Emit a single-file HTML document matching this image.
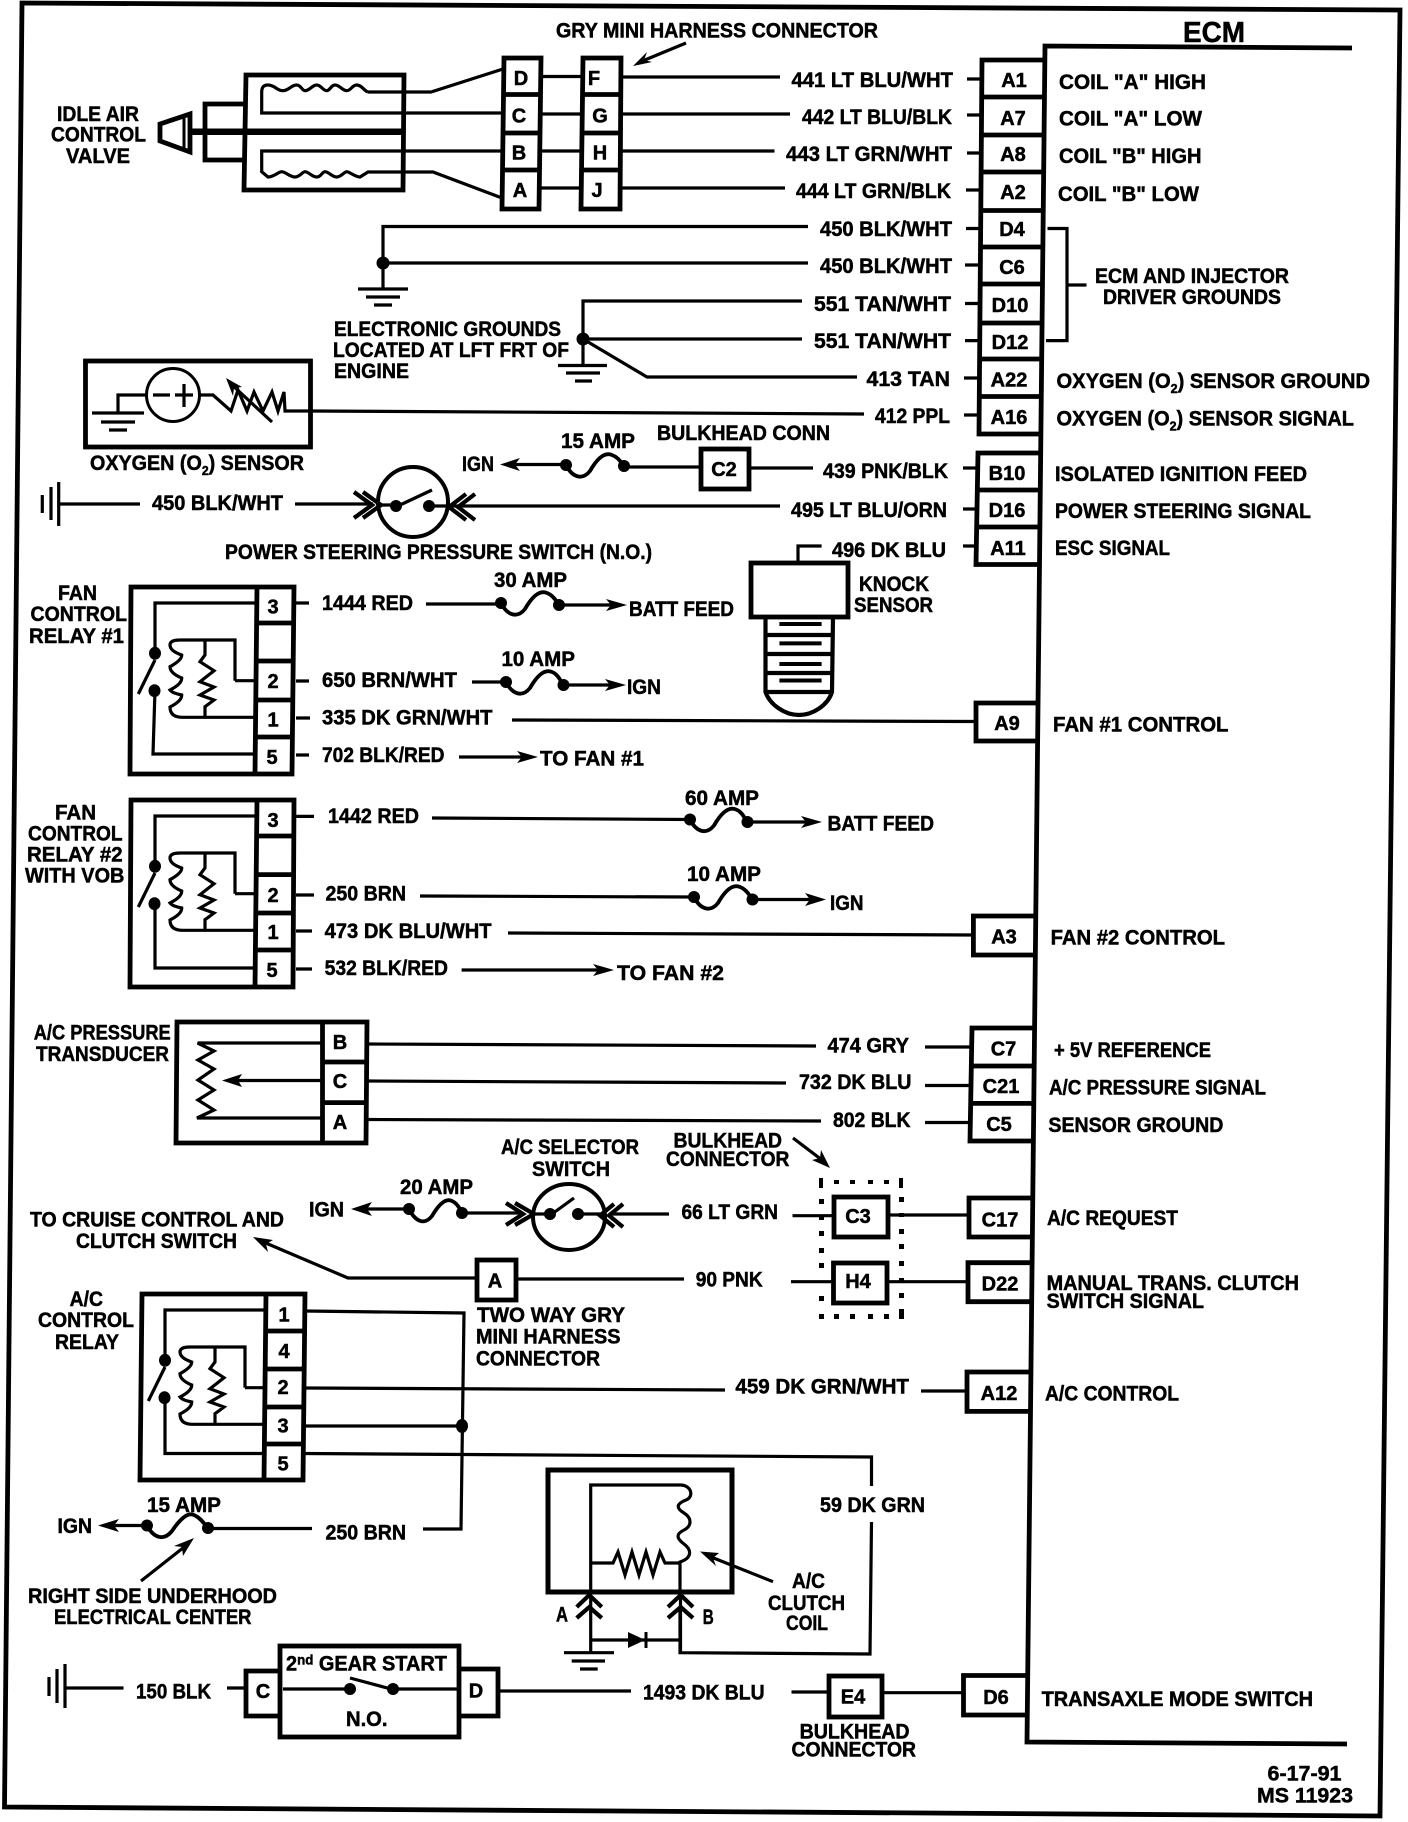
<!DOCTYPE html>
<html><head><meta charset="utf-8"><title>ECM wiring diagram</title>
<style>
html,body{margin:0;padding:0;background:#fff}
svg{display:block}
text{font-family:"Liberation Sans",sans-serif;font-weight:bold;font-size:21px;fill:#000;stroke:#000;stroke-width:.5}
.p{font-size:20px;text-anchor:middle}
.w{fill:none;stroke:#000;stroke-width:3.2}
.b{fill:none;stroke:#000;stroke-width:4.8}
.f{fill:none;stroke:#000;stroke-width:3.8}
.c{fill:none;stroke:#000;stroke-width:4.2}
.d{fill:#000;stroke:none}
</style></head><body>
<svg xmlns="http://www.w3.org/2000/svg" width="1408" height="1822" viewBox="0 0 1408 1822">
<rect width="1408" height="1822" fill="#fff"/>

<!-- frame -->
<path class="b" d="M22 3 L1400 10 L1380 1816 L4.5 1807 Z"/>
<!-- ECM -->
<path class="b" d="M1352 48 L1045 46 L1027 1742 L1347 1744"/>
<text x="1183" y="42" style="font-size:29px" textLength="62" lengthAdjust="spacingAndGlyphs">ECM</text>

<!-- pin blocks -->
<path class="b" d="M1045 60 L982 60 L979 434 L1041 434 M981.5 97H1044 M981.5 135H1044 M981 172H1044 M981 210.5H1043 M981 247H1043 M980.5 284H1043 M980.5 323H1042 M980 359H1042 M980 396.5H1042"/>
<path class="b" d="M1041 453 L978 453 L976 564.5 L1040 564.5 M977 490H1040 M977 527H1040"/>
<path class="b" d="M1040 703 H976 V741 H1038"/>
<path class="b" d="M1037 916 H973.4 V955 H1036"/>
<path class="b" d="M1035 1028 H972 L970 1141 H1034 M971 1066H1035 M971 1103.4H1034"/>
<path class="b" d="M1033 1198 H969 V1237 H1033"/>
<path class="b" d="M1032 1262.7 H968 V1301.7 H1032"/>
<path class="b" d="M1031 1372 H967 V1411.4 H1030"/>
<path class="b" d="M1028 1675.5 H963.5 V1715 H1027"/>

<text class="p" x="1014" y="87">A1</text><text class="p" x="1013" y="125">A7</text><text class="p" x="1013" y="161">A8</text><text class="p" x="1013" y="199">A2</text>
<text class="p" x="1012" y="236">D4</text><text class="p" x="1012" y="274">C6</text><text class="p" x="1010" y="312">D10</text><text class="p" x="1010" y="349">D12</text>
<text class="p" x="1009" y="386.5">A22</text><text class="p" x="1009" y="424">A16</text><text class="p" x="1007" y="480">B10</text><text class="p" x="1007" y="517">D16</text><text class="p" x="1008" y="555">A11</text>
<text class="p" x="1007" y="730">A9</text><text class="p" x="1004" y="943.5">A3</text><text class="p" x="1003.5" y="1055.6">C7</text><text class="p" x="1001" y="1093">C21</text><text class="p" x="999" y="1131">C5</text>
<text class="p" x="1000" y="1226.7">C17</text><text class="p" x="1000" y="1290.7">D22</text><text class="p" x="999" y="1400">A12</text><text class="p" x="996" y="1704">D6</text>

<!-- stubs into pins -->
<path class="w" d="M967 79H980 M967 115H980 M967 153H980 M966 190H980 M966 228.5H980 M965 265H980 M965 303.5H979 M965 340.6H979 M964 378H979 M964 415H979 M963 468H977 M963 509H977 M963 546H977"/>

<!-- right labels -->
<text x="1059" y="89" textLength="147" lengthAdjust="spacingAndGlyphs">COIL "A" HIGH</text>
<text x="1059" y="125.5" textLength="143" lengthAdjust="spacingAndGlyphs">COIL "A" LOW</text>
<text x="1059" y="163" textLength="142.5" lengthAdjust="spacingAndGlyphs">COIL "B" HIGH</text>
<text x="1058" y="201" textLength="141" lengthAdjust="spacingAndGlyphs">COIL "B" LOW</text>
<text x="1095" y="283" textLength="194" lengthAdjust="spacingAndGlyphs">ECM AND INJECTOR</text>
<text x="1103" y="304" textLength="178" lengthAdjust="spacingAndGlyphs">DRIVER GROUNDS</text>
<text x="1056.5" y="388" textLength="313.5" lengthAdjust="spacingAndGlyphs">OXYGEN (O<tspan dy="5" style="font-size:13px">2</tspan><tspan dy="-5">) SENSOR GROUND</tspan></text>
<text x="1056.5" y="425.5" textLength="297.5" lengthAdjust="spacingAndGlyphs">OXYGEN (O<tspan dy="5" style="font-size:13px">2</tspan><tspan dy="-5">) SENSOR SIGNAL</tspan></text>
<text x="1055" y="481" textLength="252" lengthAdjust="spacingAndGlyphs">ISOLATED IGNITION FEED</text>
<text x="1055" y="518" textLength="256" lengthAdjust="spacingAndGlyphs">POWER STEERING SIGNAL</text>
<text x="1055" y="555" textLength="115" lengthAdjust="spacingAndGlyphs">ESC SIGNAL</text>
<text x="1053" y="731.5" textLength="175.5" lengthAdjust="spacingAndGlyphs">FAN #1 CONTROL</text>
<text x="1050.6" y="944.6" textLength="174.4" lengthAdjust="spacingAndGlyphs">FAN #2 CONTROL</text>
<text x="1054" y="1057" textLength="157" lengthAdjust="spacingAndGlyphs">+ 5V REFERENCE</text>
<text x="1049" y="1094.6" textLength="217" lengthAdjust="spacingAndGlyphs">A/C PRESSURE SIGNAL</text>
<text x="1048.4" y="1132" textLength="175" lengthAdjust="spacingAndGlyphs">SENSOR GROUND</text>
<text x="1047" y="1225" textLength="131" lengthAdjust="spacingAndGlyphs">A/C REQUEST</text>
<text x="1046.6" y="1290" textLength="252.4" lengthAdjust="spacingAndGlyphs">MANUAL TRANS. CLUTCH</text>
<text x="1046.6" y="1308" textLength="157.4" lengthAdjust="spacingAndGlyphs">SWITCH SIGNAL</text>
<text x="1045" y="1400.7" textLength="134" lengthAdjust="spacingAndGlyphs">A/C CONTROL</text>
<text x="1041.6" y="1706" textLength="271.4" lengthAdjust="spacingAndGlyphs">TRANSAXLE MODE SWITCH</text>
<text x="1267.5" y="1780.7" textLength="74" lengthAdjust="spacingAndGlyphs">6-17-91</text>
<text x="1257" y="1802.6" textLength="96" lengthAdjust="spacingAndGlyphs">MS 11923</text>

<!-- bracket -->
<path class="w" d="M1047.5 228.5H1067V340.6H1046 M1067 285H1086.5"/>

<!-- wire labels -->
<text x="791.5" y="87" textLength="161.5" lengthAdjust="spacingAndGlyphs">441 LT BLU/WHT</text>
<text x="802" y="124" textLength="150" lengthAdjust="spacingAndGlyphs">442 LT BLU/BLK</text>
<text x="786" y="161" textLength="166" lengthAdjust="spacingAndGlyphs">443 LT GRN/WHT</text>
<text x="796" y="198" textLength="155" lengthAdjust="spacingAndGlyphs">444 LT GRN/BLK</text>
<text x="820" y="236" textLength="132" lengthAdjust="spacingAndGlyphs">450 BLK/WHT</text>
<text x="820" y="273" textLength="132" lengthAdjust="spacingAndGlyphs">450 BLK/WHT</text>
<text x="814" y="311" textLength="137" lengthAdjust="spacingAndGlyphs">551 TAN/WHT</text>
<text x="814" y="348" textLength="137" lengthAdjust="spacingAndGlyphs">551 TAN/WHT</text>
<text x="866.5" y="386" textLength="83.5" lengthAdjust="spacingAndGlyphs">413 TAN</text>
<text x="875" y="423" textLength="75" lengthAdjust="spacingAndGlyphs">412 PPL</text>
<text x="823" y="478" textLength="125" lengthAdjust="spacingAndGlyphs">439 PNK/BLK</text>
<text x="791" y="517" textLength="156" lengthAdjust="spacingAndGlyphs">495 LT BLU/ORN</text>
<text x="832" y="557" textLength="114" lengthAdjust="spacingAndGlyphs">496 DK BLU</text>
<text x="859" y="591" textLength="70" lengthAdjust="spacingAndGlyphs">KNOCK</text>
<text x="854" y="612" textLength="79" lengthAdjust="spacingAndGlyphs">SENSOR</text>

<!-- idle air control valve -->
<text x="556" y="37.5" textLength="322" lengthAdjust="spacingAndGlyphs">GRY MINI HARNESS CONNECTOR</text>
<path class="w" d="M686 43 L640 62"/><path class="d" d="M633 66 L647 52 L644 60 L652 62 Z"/>
<text x="57" y="121" textLength="82" lengthAdjust="spacingAndGlyphs">IDLE AIR</text>
<text x="51" y="141.6" textLength="95" lengthAdjust="spacingAndGlyphs">CONTROL</text>
<text x="66" y="163" textLength="64" lengthAdjust="spacingAndGlyphs">VALVE</text>
<path class="b" d="M246 75 H404 L403 190 H244 Z"/>
<path class="b" d="M245 104 H205 V160 H244"/>
<path d="M190 131.7 H403" stroke="#000" stroke-width="6.5" fill="none"/>
<path class="b" d="M160 124 L190 114 V152 L160 141 Z"/>
<path d="M184 115V151" stroke="#000" stroke-width="3" fill="none"/>
<path class="w" d="M368 92 H431 L503 69 M503 113 H261.7 V92 C261.7 87 264 85 268 85 C275 85 277 91 283 90.7 C289 90.5 291 85 296.7 85 C301 85 302 90.7 305 90.7 C310 90.7 312 85 316.7 85 C321 85 323 90.7 326.7 90.7 C330 90.7 331 85 335 85 C340 85 342 90.7 346.7 90.7 C351 90.7 352 85 356.7 85 C362 85 364 91 368 92"/>
<path class="w" d="M503 151 H261.7 V171.7 L268 177 C274 177 278 172 281.7 171.7 C286 172 290 177 295 177 C300 177 302 172 305 171.7 C309 172 312 177 316.7 177 C321 177 322 172 325 171.7 C329 172 332 177 336.7 177 C341 177 344 172 346.7 171.7 C350 172 355 177 360 177 L368 172 H433 L502 198"/>
<path class="b" d="M504 58 H541 L539 209 H502 Z M503 94.5H540 M503 133H540 M502.5 170H539.5"/>
<path class="b" d="M583 58 H621 L620 209 H581 Z M582 94.5H620 M582 133H620 M581.5 170H620"/>
<path class="w" d="M541 76.5H582 M540 114H582 M540 151H581 M539 188H581"/>
<text class="p" x="521" y="85">D</text><text class="p" x="519" y="122.5">C</text><text class="p" x="519" y="159.5">B</text><text class="p" x="520" y="197">A</text>
<text class="p" x="594" y="85">F</text><text class="p" x="600" y="122.5">G</text><text class="p" x="600" y="159.5">H</text><text class="p" x="597" y="197">J</text>
<path class="w" d="M622 77H780 M621 114H790 M620 151H774.5 M620 188H785"/>

<!-- grounds -->
<path class="w" d="M808 226.5 H383 V289 M383 263 H808"/>
<circle class="d" cx="383" cy="263" r="6.5"/>
<path class="w" d="M358 289H408 M366 297H400 M374 305H392"/>
<text x="334" y="336" textLength="227" lengthAdjust="spacingAndGlyphs">ELECTRONIC GROUNDS</text>
<text x="333" y="357" textLength="236" lengthAdjust="spacingAndGlyphs">LOCATED AT LFT FRT OF</text>
<text x="334" y="378" textLength="75" lengthAdjust="spacingAndGlyphs">ENGINE</text>
<path class="w" d="M802 301 H583 V365 M583 339 H802 M583 339 L647 377 H857"/>
<circle class="d" cx="583" cy="339" r="6.5"/>
<path class="w" d="M558 365.5H607 M566 373H600 M575 381H592"/>

<!-- O2 sensor -->
<rect class="b" x="85.5" y="361" width="225" height="86"/>
<circle cx="173" cy="395" r="26.5" fill="none" stroke="#000" stroke-width="3"/>
<path class="w" d="M153 395H170 M175 395H193 M184 384V407"/>
<path class="w" d="M146 395 H118 V413 M92 413H144 M101 422H135 M109 430H127"/>
<path class="w" d="M200 395 H213 L231 411 L238 390 L247 411 L254 392 L263 411 L272 392 L278 411 L284 392 L285 411 H310 M310 411 L864 414"/>
<path class="w" d="M272 422 L231 384"/><path class="d" d="M226 378 L242 387 L234 388 L233 396 Z"/>
<text x="90" y="470" textLength="214" lengthAdjust="spacingAndGlyphs">OXYGEN (O<tspan dy="5" style="font-size:13px">2</tspan><tspan dy="-5">) SENSOR</tspan></text>

<!-- 15A / C2 / PS switch -->
<text x="561" y="448" textLength="74" lengthAdjust="spacingAndGlyphs">15 AMP</text>
<text x="657" y="440" textLength="173" lengthAdjust="spacingAndGlyphs">BULKHEAD CONN</text>
<text x="462" y="471" textLength="32" lengthAdjust="spacingAndGlyphs">IGN</text>
<path class="w" d="M510 464.5H566 M624 467H700"/>
<path class="d" d="M500 464.5 L520 458 L515 464.5 L520 471 Z"/>
<path class="f" d="M566 465 C572 477 582 481 590 471 C598 457 605 452 612 455 C618 457 622 463 624 466"/>
<circle class="d" cx="566" cy="465" r="6"/><circle class="d" cx="624" cy="466" r="6"/>
<rect class="b" x="701" y="449" width="48" height="40"/>
<text class="p" x="724" y="476">C2</text>
<path class="w" d="M750 468H813"/>
<path class="w" d="M42.3 495V513 M51 487V520 M58.7 482V526 M58.7 504H140 M295 504H373"/>
<text x="152" y="510" textLength="131" lengthAdjust="spacingAndGlyphs">450 BLK/WHT</text>
<ellipse cx="413" cy="502" rx="35" ry="35" fill="none" stroke="#000" stroke-width="4"/>
<path class="c" d="M354 492 L372 505 L354 518 M363 492 L381 505 L363 518 M466 494 L449 507 L466 520 M475 494 L458 507 L475 520"/>
<path class="w" d="M381 505H396 M429 506H780"/>
<circle class="d" cx="396" cy="506" r="6"/><circle class="d" cx="429" cy="506" r="6"/>
<path class="w" d="M400 505 L432 490"/>
<text x="225" y="559" textLength="427" lengthAdjust="spacingAndGlyphs">POWER STEERING PRESSURE SWITCH (N.O.)</text>

<!-- knock sensor -->
<path class="w" d="M821.6 546 H798 V562"/>
<rect class="b" x="751" y="563" width="97" height="54"/>
<path class="c" d="M765.5 617 V692 C770 705 785 715 799 715 C813 715 828 705 832 692 L833 617 M765.5 635H833 M765.5 654H833 M765.5 673H833 M765.5 692H833"/>
<path d="M779.4 624H821.6 M779.4 643.4H821.6 M779.4 664H821.6 M779.4 680.5H821.6" stroke="#000" stroke-width="4" fill="none"/>

<!-- relay 1 -->
<text x="58" y="600" textLength="39" lengthAdjust="spacingAndGlyphs">FAN</text>
<text x="30.5" y="621" textLength="96.5" lengthAdjust="spacingAndGlyphs">CONTROL</text>
<text x="29" y="643" textLength="95" lengthAdjust="spacingAndGlyphs">RELAY #1</text>
<path class="b" d="M131 587 H294 L292 774 H130 Z M257 587 L255 774 M256 623H293 M256 661H293 M256 700H293 M256 737H292"/>
<text class="p" x="273" y="613.6">3</text><text class="p" x="273" y="688">2</text><text class="p" x="273" y="726.5">1</text><text class="p" x="272" y="764">5</text>
<g id="rel">
<path class="w" d="M256 603 H155 V654 M155 660 L138.3 694 M235 680.7 H256 M235 680.7 V640 H180 Q170 640 170 645 Q170 651 181.7 655 Q182 660 170 666.7 Q170 673 181.7 678 Q182 684 170 690 Q172 693 181.7 695 Q182 701 170 707 Q170 717 181.7 717.3 H256 M205 640 V655 L200 661.7 L214 670.7 L200 681.7 L214 687 L200 695 L214 700 L205 706.7 V717"/>
<ellipse class="d" cx="155" cy="653.3" rx="6" ry="6.5"/><ellipse class="d" cx="154.5" cy="690.7" rx="6" ry="6.5"/>
</g>
<path class="w" d="M155 690 L153 754 H256"/>
<path class="w" d="M296 603H309 M296 681H309 M296 718H310 M296 755H309"/>
<text x="322" y="610" textLength="91" lengthAdjust="spacingAndGlyphs">1444 RED</text>
<text x="322" y="687" textLength="135" lengthAdjust="spacingAndGlyphs">650 BRN/WHT</text>
<text x="322" y="724.5" textLength="170.5" lengthAdjust="spacingAndGlyphs">335 DK GRN/WHT</text>
<text x="322" y="762" textLength="122.5" lengthAdjust="spacingAndGlyphs">702 BLK/RED</text>
<text x="494" y="587" textLength="73" lengthAdjust="spacingAndGlyphs">30 AMP</text>
<text x="501.5" y="666" textLength="73.5" lengthAdjust="spacingAndGlyphs">10 AMP</text>
<text x="629" y="616" textLength="105" lengthAdjust="spacingAndGlyphs">BATT FEED</text>
<text x="627" y="694" textLength="34" lengthAdjust="spacingAndGlyphs">IGN</text>
<text x="540" y="765.5" textLength="104" lengthAdjust="spacingAndGlyphs">TO FAN #1</text>
<path class="w" d="M426 604H501 M559 605H615 M472 682H506 M563.5 685H615 M512 720 L976 721.5 M459 757H528"/>
<path class="f" d="M501 603 C507 615 517 619 525 609 C533 595 540 590 547 593 C553 595 557 602 559 605"/>
<circle class="d" cx="501" cy="603" r="6"/><circle class="d" cx="559" cy="605" r="6"/>
<path class="f" d="M506 682 C512 694 522 698 530 688 C538 674 545 669 552 672 C558 674 561 682 563.5 685"/>
<circle class="d" cx="506" cy="682" r="6"/><circle class="d" cx="563.5" cy="685" r="6"/>
<path class="d" d="M627 605 L606 599 L611 605 L606 611 Z M626 685 L605 679 L610 685 L605 691 Z M538 757 L517 751 L522 757 L517 763 Z"/>

<!-- relay 2 -->
<text x="55" y="819.5" textLength="41" lengthAdjust="spacingAndGlyphs">FAN</text>
<text x="28" y="840.5" textLength="94.6" lengthAdjust="spacingAndGlyphs">CONTROL</text>
<text x="27" y="861.6" textLength="95.6" lengthAdjust="spacingAndGlyphs">RELAY #2</text>
<text x="25" y="882.6" textLength="99.4" lengthAdjust="spacingAndGlyphs">WITH VOB</text>
<path class="b" d="M131 800 H294 L293 987 H130 Z M257 800 L255 987 M256 836H293 M256 874.6H293 M256 913H293 M256 950H293"/>
<text class="p" x="273" y="827">3</text><text class="p" x="273" y="902">2</text><text class="p" x="273" y="939">1</text><text class="p" x="272" y="977">5</text>
<use href="#rel" transform="translate(0,213)"/>
<path class="w" d="M155 904 V968 H256"/>
<path class="w" d="M296 816.4H314 M296 895H314 M296 931H312 M296 969H312"/>
<text x="328" y="823" textLength="91" lengthAdjust="spacingAndGlyphs">1442 RED</text>
<text x="325.5" y="900.6" textLength="80.5" lengthAdjust="spacingAndGlyphs">250 BRN</text>
<text x="324.6" y="938" textLength="167" lengthAdjust="spacingAndGlyphs">473 DK BLU/WHT</text>
<text x="324.6" y="975" textLength="123.4" lengthAdjust="spacingAndGlyphs">532 BLK/RED</text>
<text x="685" y="805" textLength="74" lengthAdjust="spacingAndGlyphs">60 AMP</text>
<text x="687" y="881" textLength="74" lengthAdjust="spacingAndGlyphs">10 AMP</text>
<text x="827.5" y="830.6" textLength="106.5" lengthAdjust="spacingAndGlyphs">BATT FEED</text>
<text x="830" y="910" textLength="33.4" lengthAdjust="spacingAndGlyphs">IGN</text>
<text x="617" y="980" textLength="107" lengthAdjust="spacingAndGlyphs">TO FAN #2</text>
<path class="w" d="M432 818 L690 819.5 M747.5 822H812 M420 896 L694 897 M752.5 899.5H815 M508 933 L973 935 M461.6 970H604"/>
<path class="f" d="M690 819.5 C696 831.5 706 835.5 714 825.5 C722 811.5 729 806.5 736 809.5 C742 811.5 745 819 747.5 822"/>
<circle class="d" cx="690" cy="819.5" r="6"/><circle class="d" cx="747.5" cy="822" r="6"/>
<path class="f" d="M694 897 C700 909 710 913 718 903 C726 889 733 884 740 887 C746 889 750 896 752.5 899.5"/>
<circle class="d" cx="694" cy="897" r="6"/><circle class="d" cx="752.5" cy="899.5" r="6"/>
<path class="d" d="M822 822 L801 816 L806 822 L801 828 Z M826 899.5 L805 893 L810 899.5 L805 906 Z M614 970 L593 964 L598 970 L593 976 Z"/>

<!-- transducer -->
<text x="33.7" y="1039.5" textLength="137" lengthAdjust="spacingAndGlyphs">A/C PRESSURE</text>
<text x="36" y="1061" textLength="133" lengthAdjust="spacingAndGlyphs">TRANSDUCER</text>
<path class="b" d="M177 1022 H367 L366 1143 H176 Z M322.5 1022 V1143 M323 1062H366 M323 1102.6H366"/>
<text class="p" x="340" y="1049">B</text><text class="p" x="340" y="1088">C</text><text class="p" x="340" y="1129">A</text>
<path class="w" d="M322 1043 H197.6 L214 1051 L198 1060 L214 1069 L198 1080 L214 1090 L198 1100 L214 1110 L197 1118 H322 M322 1080.5 H232"/>
<path class="d" d="M222 1080.5 L242 1074 L238 1080.5 L242 1087 Z"/>
<path class="w" d="M367 1044 L816 1046 M367 1081 L786 1083 M367 1119.5 L821 1121 M925 1047H971 M925 1085.5H971 M925 1122.5H970"/>
<text x="827.5" y="1052.5" textLength="81.5" lengthAdjust="spacingAndGlyphs">474 GRY</text>
<text x="799" y="1089" textLength="112.4" lengthAdjust="spacingAndGlyphs">732 DK BLU</text>
<text x="833" y="1127" textLength="77.5" lengthAdjust="spacingAndGlyphs">802 BLK</text>

<!-- A/C selector row -->
<text x="501" y="1154" textLength="138" lengthAdjust="spacingAndGlyphs">A/C SELECTOR</text>
<text x="532" y="1176" textLength="78" lengthAdjust="spacingAndGlyphs">SWITCH</text>
<text x="673.5" y="1147.7" textLength="108.5" lengthAdjust="spacingAndGlyphs">BULKHEAD</text>
<text x="666" y="1166" textLength="123.4" lengthAdjust="spacingAndGlyphs">CONNECTOR</text>
<path class="w" d="M793 1138 L822 1160"/><path class="d" d="M830 1168 L812 1160 L820 1158 L821 1150 Z"/>
<text x="309" y="1216.7" textLength="35" lengthAdjust="spacingAndGlyphs">IGN</text>
<text x="400" y="1194" textLength="73" lengthAdjust="spacingAndGlyphs">20 AMP</text>
<path class="w" d="M358 1209H409 M462 1213H522"/>
<path class="d" d="M351 1209 L372 1202 L367 1209 L372 1216 Z"/>
<path class="f" d="M409 1209 C415 1221 424 1226 432 1216 C439 1204 446 1198 452 1201 C457 1203 460 1209 462 1213"/>
<circle class="d" cx="409" cy="1209" r="6"/><circle class="d" cx="462" cy="1213" r="6"/>
<ellipse cx="569" cy="1217" rx="36" ry="33" fill="none" stroke="#000" stroke-width="4"/>
<path class="c" d="M506 1203 L523 1214 L506 1225 M515 1203 L534 1214 L515 1225 M614 1204 L600 1215.5 L614 1227 M623 1204 L609 1215.5 L623 1227"/>
<path class="w" d="M534 1214H550 M578 1214H601 M609 1214H669 M552 1214 L574 1198"/>
<circle class="d" cx="550" cy="1214" r="6"/><circle class="d" cx="578" cy="1214" r="6"/>
<text x="681.5" y="1219" textLength="96.5" lengthAdjust="spacingAndGlyphs">66 LT GRN</text>
<path class="w" d="M792.5 1215.7H832 M889 1215H969 M791 1281.7H832 M887 1281.7H968"/>
<rect class="b" x="834" y="1197" width="54" height="40"/>
<rect class="b" x="833.5" y="1263" width="53.5" height="40"/>
<text class="p" x="858" y="1223">C3</text><text class="p" x="858" y="1288">H4</text>
<g class="d">
<rect x="819" y="1178" width="4" height="10"/><rect x="899" y="1178" width="4" height="10"/>
<rect x="834" y="1180" width="5" height="4"/><rect x="850" y="1180" width="5" height="4"/><rect x="868" y="1180" width="5" height="4"/><rect x="884" y="1180" width="5" height="4"/>
<rect x="819" y="1199" width="5" height="5"/><rect x="819" y="1216" width="5" height="4"/><rect x="819" y="1231" width="5" height="5"/><rect x="819" y="1248" width="5" height="5"/><rect x="819" y="1263" width="5" height="5"/><rect x="819" y="1296" width="5" height="5"/>
<rect x="899" y="1197" width="5" height="5"/><rect x="899" y="1213" width="5" height="4"/><rect x="899" y="1229" width="5" height="5"/><rect x="899" y="1244" width="5" height="5"/><rect x="899" y="1261" width="5" height="5"/><rect x="899" y="1278" width="5" height="3"/><rect x="899" y="1293" width="5" height="5"/>
<rect x="819" y="1314" width="5" height="5"/><rect x="899" y="1309" width="5" height="10"/>
<rect x="834" y="1314" width="5" height="5"/><rect x="850" y="1314" width="5" height="5"/><rect x="868" y="1314" width="5" height="5"/><rect x="884" y="1314" width="5" height="5"/>
</g>
<text x="30" y="1226.7" textLength="254" lengthAdjust="spacingAndGlyphs">TO CRUISE CONTROL AND</text>
<text x="76" y="1248" textLength="161" lengthAdjust="spacingAndGlyphs">CLUTCH SWITCH</text>
<path class="w" d="M261 1241 L348 1278 H476 M517 1279H684"/>
<path class="d" d="M253 1237 L273 1240 L266 1244 L268 1252 Z"/>
<rect class="b" x="477" y="1260" width="39" height="40"/>
<text class="p" x="495" y="1287.7">A</text>
<text x="695.7" y="1286.7" textLength="67" lengthAdjust="spacingAndGlyphs">90 PNK</text>
<text x="477" y="1322" textLength="148" lengthAdjust="spacingAndGlyphs">TWO WAY GRY</text>
<text x="476" y="1343.7" textLength="144.5" lengthAdjust="spacingAndGlyphs">MINI HARNESS</text>
<text x="476" y="1365.5" textLength="124" lengthAdjust="spacingAndGlyphs">CONNECTOR</text>

<!-- A/C relay -->
<text x="69.6" y="1306" textLength="33.4" lengthAdjust="spacingAndGlyphs">A/C</text>
<text x="38" y="1327" textLength="96" lengthAdjust="spacingAndGlyphs">CONTROL</text>
<text x="55" y="1349" textLength="64" lengthAdjust="spacingAndGlyphs">RELAY</text>
<path class="b" d="M142 1294 H305 L303 1480 H140 Z M266 1294 L264 1480 M266 1331H304 M266 1369H304 M265 1407H303 M265 1444H303"/>
<text class="p" x="284" y="1321.5">1</text><text class="p" x="284" y="1358">4</text><text class="p" x="283" y="1394">2</text><text class="p" x="283" y="1432.5">3</text><text class="p" x="283" y="1470.7">5</text>
<use href="#rel" transform="translate(10,707)"/>
<path class="w" d="M165 1397 V1453.5 H265"/>
<path class="w" d="M305 1311 L464 1313 L461 1529 H423 M305 1426 H462 M305 1388 L725 1390 M304 1453.5 L871.5 1457 V1486 M871.5 1522 L870 1654 L680 1652.7 V1608"/>
<ellipse class="d" cx="462" cy="1426" rx="6" ry="7"/>
<text x="820" y="1512" textLength="105" lengthAdjust="spacingAndGlyphs">59 DK GRN</text>
<text x="735.4" y="1393.4" textLength="173.6" lengthAdjust="spacingAndGlyphs">459 DK GRN/WHT</text>
<path class="w" d="M921 1391H967"/>
<text x="147" y="1512" textLength="74" lengthAdjust="spacingAndGlyphs">15 AMP</text>
<text x="57.5" y="1533" textLength="34.5" lengthAdjust="spacingAndGlyphs">IGN</text>
<path class="d" d="M98 1525.5 L119 1519 L114 1525.5 L119 1532 Z"/>
<path class="w" d="M106 1525.5H147 M208 1528.5H312"/>
<path class="f" d="M147 1525.5 C153 1537 163 1542 172 1531 C180 1519 188 1512 194 1515 C201 1518 205 1525 208 1528"/>
<circle class="d" cx="147" cy="1525.5" r="6"/><circle class="d" cx="208" cy="1528" r="6"/>
<text x="325.5" y="1539.6" textLength="80.5" lengthAdjust="spacingAndGlyphs">250 BRN</text>
<path class="w" d="M141 1581 L188 1544"/><path class="d" d="M194 1538 L183 1556 L182 1547 L174 1546 Z"/>
<text x="28" y="1603" textLength="249" lengthAdjust="spacingAndGlyphs">RIGHT SIDE UNDERHOOD</text>
<text x="54" y="1624" textLength="197.5" lengthAdjust="spacingAndGlyphs">ELECTRICAL CENTER</text>

<!-- clutch coil -->
<rect x="548" y="1470" width="184" height="122" fill="none" stroke="#000" stroke-width="5"/>
<path class="w" d="M590.7 1592 V1485 H680 C692 1485 694 1497 686 1500 C676 1504 676 1508 684 1513 C692 1518 692 1526 684 1530 C676 1534 676 1538 684 1544 C692 1550 692 1558 680 1562 V1592 M590.7 1563 H613 L618 1552 L625 1575 L632 1552 L639 1575 L646 1552 L653 1575 L660 1552 L665 1563 H680"/>
<path class="c" d="M576.7 1607 L589.3 1595 L601.7 1607 M576.7 1618 L589.3 1607 L601.7 1618 M668 1607 L680.7 1595 L693 1607 M668 1618 L680.7 1607 L693 1618"/>
<path class="w" d="M590.7 1596 V1652.7 M680.5 1596 V1652.7 M590.7 1640 H680.5"/>
<path class="d" d="M628 1632 L645 1640 L628 1648 Z"/><path d="M646 1632V1648" stroke="#000" stroke-width="3"/>
<path class="w" d="M564 1652.7H614 M571.7 1661H605 M580 1669H597.7"/>
<text x="556" y="1621.7" textLength="12" lengthAdjust="spacingAndGlyphs">A</text>
<text x="702.7" y="1624" textLength="11" lengthAdjust="spacingAndGlyphs">B</text>
<path class="w" d="M773 1581.7 L706 1555"/><path class="d" d="M700 1551.5 L719 1553 L713 1558 L716 1566 Z"/>
<text x="792" y="1588" textLength="33" lengthAdjust="spacingAndGlyphs">A/C</text>
<text x="768" y="1610" textLength="77" lengthAdjust="spacingAndGlyphs">CLUTCH</text>
<text x="786" y="1630" textLength="42" lengthAdjust="spacingAndGlyphs">COIL</text>

<!-- 2nd gear start -->
<path class="w" d="M49 1677V1696 M57 1669V1703 M65 1664V1708 M65 1688H123.5 M227 1688H246"/>
<text x="136" y="1698.5" textLength="75" lengthAdjust="spacingAndGlyphs">150 BLK</text>
<path class="b" d="M279 1671 H246 V1716 H279"/>
<rect class="b" x="280" y="1646" width="179" height="91"/>
<path class="b" d="M460 1669 H498 V1716 H460"/>
<text class="p" x="263" y="1698">C</text><text class="p" x="476" y="1697.7">D</text>
<text x="286" y="1670.5" textLength="161" lengthAdjust="spacingAndGlyphs">2<tspan dy="-6" style="font-size:14px">nd</tspan><tspan dy="6"> GEAR START</tspan></text>
<text x="346" y="1726" textLength="41.5" lengthAdjust="spacingAndGlyphs">N.O.</text>
<path class="w" d="M283 1689H350 M393 1689H458 M350 1678 L391 1689"/>
<circle class="d" cx="350" cy="1689" r="6"/><circle class="d" cx="393" cy="1689" r="6"/>
<path class="w" d="M499 1691H631 M791.5 1692H827.5 M882 1692.7H963.5"/>
<text x="643" y="1699.6" textLength="121.6" lengthAdjust="spacingAndGlyphs">1493 DK BLU</text>
<rect class="b" x="829" y="1676" width="53" height="41"/>
<text class="p" x="853" y="1703.4">E4</text>
<text x="799.6" y="1738.6" textLength="110" lengthAdjust="spacingAndGlyphs">BULKHEAD</text>
<text x="791.5" y="1756.6" textLength="124.5" lengthAdjust="spacingAndGlyphs">CONNECTOR</text>
</svg>
</body></html>
